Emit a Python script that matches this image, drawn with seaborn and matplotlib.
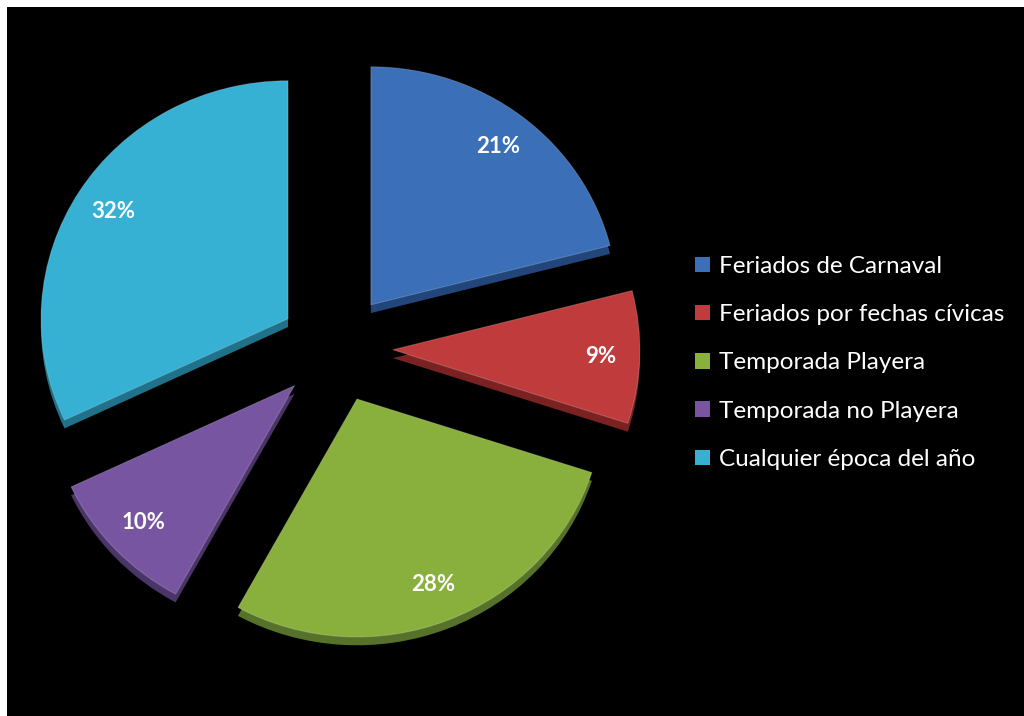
import matplotlib
matplotlib.use("Agg")
import matplotlib.pyplot as plt
import matplotlib.patches as mpatches
import seaborn as sns

# datos
categorias = ["Feriados de Carnaval", "Feriados por fechas cívicas", "Temporada Playera",
              "Temporada no Playera", "Cualquier época del año"]
porcentajes = [21, 9, 28, 10, 32]
colores = ["#3b6fb8", "#c03c3c", "#89b03c", "#7755a0", "#36b0d3"]
colores_lado = ["#22467a", "#7a2222", "#56722a", "#4a3468", "#20728a"]

sns.set_theme(style="dark")
plt.rcParams["font.family"] = ["Lato", "DejaVu Sans"]
plt.rcParams["savefig.bbox"] = "standard"

fig = plt.figure(figsize=(10.24, 7.16), dpi=100, facecolor="black")
# margen blanco arriba y a la izquierda
fig.add_artist(mpatches.Rectangle((0, 709 / 716), 1, 7 / 716, transform=fig.transFigure,
                                  facecolor="white", edgecolor="none"))
fig.add_artist(mpatches.Rectangle((0, 0), 7 / 1024, 1, transform=fig.transFigure,
                                  facecolor="white", edgecolor="none"))
ax = fig.add_axes([7 / 1024, 0, 1017 / 1024, 709 / 716])

explode = [0.23] * len(porcentajes)

# lado "3D" (sombra debajo)
ax.pie(porcentajes, colors=colores_lado, startangle=90, counterclock=False,
       explode=explode, center=(0, -0.035), radius=1,
       wedgeprops=dict(linewidth=0))

wedges, _, autotexts = ax.pie(
    porcentajes, colors=colores, startangle=90, counterclock=False,
    explode=explode, radius=1, autopct="%1.0f%%", pctdistance=0.84,
    wedgeprops=dict(linewidth=0.8, edgecolor="#ffffff30"),
    textprops=dict(color="white", fontsize=16, fontweight="bold"))

ax.set_xlim(-1.332, 2.785)
ax.set_ylim(-1.546, 1.433)
ax.set_aspect("auto")
ax.axis("off")

handles = [mpatches.Patch(facecolor=c, edgecolor="none") for c in colores]
leg = fig.legend(handles, categorias, loc="center left",
                 bbox_to_anchor=(695 / 1024, 1 - 363 / 716),
                 frameon=False, fontsize=17.5, handlelength=0.6, handleheight=0.6,
                 handletextpad=0.4, labelspacing=1.12, borderpad=0, borderaxespad=0)
for t in leg.get_texts():
    t.set_color("white")

fig.savefig("out.png", dpi=100, facecolor="black", bbox_inches=None, pad_inches=0)
